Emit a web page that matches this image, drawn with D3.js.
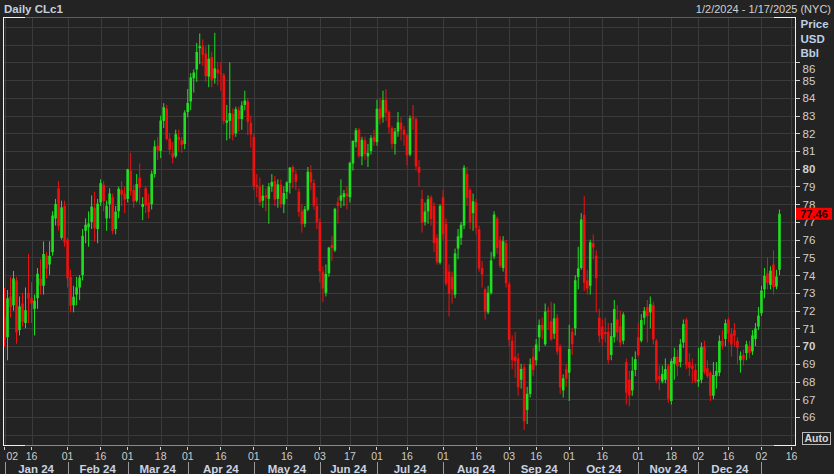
<!DOCTYPE html>
<html><head><meta charset="utf-8">
<script src="https://cdn.jsdelivr.net/npm/d3@7"></script>
<style>
html,body{margin:0;padding:0;background:#232323;overflow:hidden;}
svg{display:block;}
text{font-family:"Liberation Sans",Arial,sans-serif;}
</style></head><body>
<svg id="c" width="834" height="474"></svg>
<script>
// ---- categories: trading days (last five are empty axis space up to 1/17/2025)
const dates = [
"2024-01-02","2024-01-03","2024-01-04","2024-01-05","2024-01-08","2024-01-09","2024-01-10","2024-01-11","2024-01-12","2024-01-16",
"2024-01-17","2024-01-18","2024-01-19","2024-01-22","2024-01-23","2024-01-24","2024-01-25","2024-01-26","2024-01-29","2024-01-30","2024-01-31",
"2024-02-01","2024-02-02","2024-02-05","2024-02-06","2024-02-07","2024-02-08","2024-02-09","2024-02-12","2024-02-13","2024-02-14",
"2024-02-15","2024-02-16","2024-02-20","2024-02-21","2024-02-22","2024-02-23","2024-02-26","2024-02-27","2024-02-28","2024-02-29",
"2024-03-01","2024-03-04","2024-03-05","2024-03-06","2024-03-07","2024-03-08","2024-03-11","2024-03-12","2024-03-13","2024-03-14",
"2024-03-15","2024-03-18","2024-03-19","2024-03-20","2024-03-21","2024-03-22","2024-03-25","2024-03-26","2024-03-27","2024-03-28",
"2024-04-01","2024-04-02","2024-04-03","2024-04-04","2024-04-05","2024-04-08","2024-04-09","2024-04-10","2024-04-11","2024-04-12",
"2024-04-15","2024-04-16","2024-04-17","2024-04-18","2024-04-19","2024-04-22","2024-04-23","2024-04-24","2024-04-25","2024-04-26","2024-04-29","2024-04-30",
"2024-05-01","2024-05-02","2024-05-03","2024-05-06","2024-05-07","2024-05-08","2024-05-09","2024-05-10","2024-05-13","2024-05-14",
"2024-05-15","2024-05-16","2024-05-17","2024-05-20","2024-05-21","2024-05-22","2024-05-23","2024-05-24","2024-05-28","2024-05-29","2024-05-30","2024-05-31",
"2024-06-03","2024-06-04","2024-06-05","2024-06-06","2024-06-07","2024-06-10","2024-06-11","2024-06-12","2024-06-13","2024-06-14",
"2024-06-17","2024-06-18","2024-06-20","2024-06-21","2024-06-24","2024-06-25","2024-06-26","2024-06-27","2024-06-28",
"2024-07-01","2024-07-02","2024-07-03","2024-07-05","2024-07-08","2024-07-09","2024-07-10","2024-07-11","2024-07-12","2024-07-15",
"2024-07-16","2024-07-17","2024-07-18","2024-07-19","2024-07-22","2024-07-23","2024-07-24","2024-07-25","2024-07-26","2024-07-29","2024-07-30","2024-07-31",
"2024-08-01","2024-08-02","2024-08-05","2024-08-06","2024-08-07","2024-08-08","2024-08-09","2024-08-12","2024-08-13","2024-08-14",
"2024-08-15","2024-08-16","2024-08-19","2024-08-20","2024-08-21","2024-08-22","2024-08-23","2024-08-26","2024-08-27","2024-08-28","2024-08-29","2024-08-30",
"2024-09-03","2024-09-04","2024-09-05","2024-09-06","2024-09-09","2024-09-10","2024-09-11","2024-09-12","2024-09-13","2024-09-16",
"2024-09-17","2024-09-18","2024-09-19","2024-09-20","2024-09-23","2024-09-24","2024-09-25","2024-09-26","2024-09-27","2024-09-30",
"2024-10-01","2024-10-02","2024-10-03","2024-10-04","2024-10-07","2024-10-08","2024-10-09","2024-10-10","2024-10-11","2024-10-14",
"2024-10-15","2024-10-16","2024-10-17","2024-10-18","2024-10-21","2024-10-22","2024-10-23","2024-10-24","2024-10-25","2024-10-28","2024-10-29","2024-10-30","2024-10-31",
"2024-11-01","2024-11-04","2024-11-05","2024-11-06","2024-11-07","2024-11-08","2024-11-11","2024-11-12","2024-11-13","2024-11-14",
"2024-11-15","2024-11-18","2024-11-19","2024-11-20","2024-11-21","2024-11-22","2024-11-25","2024-11-26","2024-11-27","2024-11-29",
"2024-12-02","2024-12-03","2024-12-04","2024-12-05","2024-12-06","2024-12-09","2024-12-10","2024-12-11","2024-12-12","2024-12-13",
"2024-12-16","2024-12-17","2024-12-18","2024-12-19","2024-12-20","2024-12-23","2024-12-24","2024-12-26","2024-12-27","2024-12-30","2024-12-31",
"2025-01-02","2025-01-03","2025-01-06","2025-01-07","2025-01-08","2025-01-09","2025-01-10",
"2025-01-13","2025-01-14","2025-01-15","2025-01-16","2025-01-17"
];

// ---- series values (USD/Bbl)
const open = [
71.65,70.50,72.80,72.30,73.70,70.90,72.40,71.30,73.00,72.70,72.10,72.70,73.80,73.40,75.10,74.60,75.30,77.20,78.90,76.10,77.90,
76.00,73.90,72.30,72.90,73.30,74.00,76.50,76.70,77.00,77.80,76.60,78.10,79.10,77.20,78.00,78.40,76.60,77.60,78.80,78.60,
78.30,79.90,78.80,78.20,79.50,77.85,78.90,78.10,78.00,79.70,81.30,81.00,82.70,83.40,81.70,80.90,80.70,81.80,81.60,81.40,
83.20,83.80,85.10,85.60,86.80,86.90,86.50,85.20,86.30,85.10,85.60,85.40,85.30,82.60,82.70,83.10,82.00,83.30,82.80,83.60,83.80,82.60,
81.80,79.10,79.00,78.20,78.50,78.30,79.00,79.30,78.30,79.10,78.00,78.70,79.20,80.10,79.70,78.70,77.60,76.90,77.70,79.80,79.20,77.90,
77.00,74.20,73.00,74.10,75.70,75.40,78.10,78.20,78.40,78.60,78.40,80.30,81.50,82.20,80.70,81.60,80.70,81.00,81.80,
81.50,83.40,82.90,83.90,83.20,82.30,81.40,82.10,82.60,82.20,81.90,80.80,82.90,82.80,80.10,78.30,77.00,77.60,78.40,77.90,76.10,74.70,
78.40,76.90,74.20,73.90,72.90,75.50,76.10,76.80,79.70,78.80,77.50,78.10,76.60,74.40,73.20,71.90,73.00,75.05,77.20,76.00,74.40,75.80,
73.50,70.30,69.40,69.30,68.10,68.80,66.40,67.30,69.40,69.20,70.50,71.20,70.10,72.00,71.40,70.70,71.60,69.97,67.50,68.70,
68.50,70.80,71.00,73.90,74.40,77.40,73.70,73.40,75.80,75.10,71.60,71.10,70.80,70.80,69.50,70.50,71.50,71.10,70.30,69.10,68.10,67.50,68.65,
70.50,70.30,71.60,72.20,71.90,72.30,70.30,68.30,68.00,68.10,68.90,66.90,69.00,69.40,69.10,70.20,71.50,69.10,68.90,68.65,
68.00,68.10,70.00,68.75,68.50,67.20,68.30,68.50,70.30,70.40,71.50,70.70,70.90,70.30,69.20,69.50,69.60,70.00,69.70,70.40,71.10,
71.85,73.20,74.10,73.45,74.60,73.35,74.30
];
const high = [
73.28,73.16,73.90,74.24,73.90,72.80,73.00,73.30,75.20,73.60,72.90,74.40,74.90,75.90,75.30,75.90,77.60,78.30,79.30,78.20,78.20,
76.10,74.30,73.40,73.90,74.00,76.60,77.20,77.60,78.50,78.70,78.30,79.40,79.30,78.20,78.90,78.60,77.90,79.00,79.30,79.00,
80.00,80.90,79.10,79.70,80.30,78.40,79.00,78.60,79.90,81.60,81.80,83.00,83.70,83.60,82.00,81.50,82.20,82.20,81.80,83.30,
84.50,85.40,85.60,87.10,87.63,87.30,86.90,87.00,86.60,87.67,86.00,86.00,85.40,83.60,86.00,83.40,83.50,83.50,83.80,84.40,84.00,83.00,
82.00,79.70,79.50,79.10,78.90,79.20,79.70,79.60,79.40,79.40,79.00,79.30,80.10,80.20,79.90,78.90,78.00,77.90,80.10,80.20,79.40,78.40,
77.20,74.50,74.60,75.60,76.20,77.80,78.40,79.40,78.80,79.00,80.40,81.60,82.30,82.30,81.80,81.80,81.40,81.90,82.20,
83.90,84.00,84.40,84.50,83.30,82.40,82.30,83.20,82.90,82.40,82.00,83.00,83.60,82.90,80.50,78.80,78.10,78.50,78.50,78.10,76.30,78.00,
78.80,77.20,74.60,74.20,75.50,76.60,77.00,80.20,80.10,78.90,78.60,78.30,76.80,74.80,73.30,73.40,75.30,77.60,77.30,76.20,76.20,76.00,
73.60,70.60,70.80,69.60,69.00,69.00,67.70,69.30,69.90,70.40,71.50,71.60,72.40,72.20,72.50,72.40,71.80,70.10,68.40,69.00,
71.20,71.00,74.00,75.60,77.50,78.46,74.30,76.00,76.30,75.40,72.10,71.50,71.60,71.30,71.30,72.60,72.30,72.00,71.90,69.30,68.60,69.40,69.70,
71.30,71.80,72.20,72.60,72.80,72.50,70.40,68.90,68.90,69.30,69.00,69.30,69.90,69.80,70.40,71.50,71.60,69.60,69.30,69.00,
69.90,70.20,70.30,69.20,68.60,69.10,69.10,70.60,70.90,71.50,71.60,71.00,71.30,70.50,69.70,69.80,70.30,70.30,70.90,71.30,72.20,
73.40,74.40,75.00,74.50,75.40,74.30,77.70
];
const low = [
69.95,69.20,71.60,72.00,70.13,70.60,71.10,71.00,71.30,71.30,70.60,72.10,72.90,72.90,73.80,74.00,75.10,76.80,76.50,76.00,75.60,
73.30,71.90,71.90,72.30,72.60,73.70,75.80,75.60,76.60,75.90,75.80,77.90,77.60,76.50,77.20,76.30,76.30,77.20,77.90,77.50,
78.10,78.50,77.80,78.10,78.00,77.10,77.50,77.20,77.70,79.50,80.50,80.60,82.30,81.60,80.80,80.30,80.60,81.00,80.90,81.10,
82.90,83.30,84.30,84.90,85.90,85.80,84.90,84.60,84.60,84.80,84.70,84.40,82.50,81.60,81.70,81.60,81.80,82.10,82.20,83.30,81.90,81.20,
78.80,78.40,77.90,77.80,77.60,76.90,78.70,77.90,77.80,77.80,77.50,78.30,78.60,78.90,78.80,77.30,76.40,76.70,77.60,78.80,77.70,76.60,
73.60,72.48,72.80,73.90,74.80,75.30,76.90,77.80,77.90,77.70,78.10,79.90,81.20,80.60,80.20,80.50,80.10,80.80,81.30,
81.30,82.50,82.60,82.70,82.00,81.10,80.80,81.80,81.60,81.30,80.20,80.70,82.20,79.90,79.00,76.40,76.80,76.90,76.80,75.30,74.60,74.60,
76.00,73.40,71.67,72.40,72.70,74.90,75.70,76.60,77.90,76.60,76.50,76.30,74.20,73.30,71.50,71.80,72.90,74.90,75.20,74.40,74.20,73.30,
70.00,68.70,68.20,67.20,67.60,65.27,65.60,67.10,68.30,68.90,69.70,70.40,70.00,70.90,70.30,70.40,69.50,67.30,67.10,67.70,
66.90,69.50,70.60,73.20,74.30,73.10,72.90,72.90,74.90,71.90,70.20,70.00,70.20,69.00,69.20,70.20,70.30,70.00,70.10,66.70,66.60,67.20,68.30,
69.40,70.20,71.20,70.20,71.00,70.10,67.90,67.50,67.90,67.90,66.80,66.70,68.10,68.30,68.80,69.90,68.70,68.30,67.90,67.90,
67.70,67.90,68.40,68.20,66.90,67.00,67.60,68.30,69.80,70.00,70.20,69.40,70.00,69.00,68.50,68.90,69.20,69.30,69.50,70.00,70.90,
71.70,72.70,73.20,73.20,72.90,73.20,74.00
];
const close = [
70.38,72.70,72.19,73.81,70.77,72.24,71.37,72.02,72.68,72.40,72.56,74.08,73.41,75.19,74.37,75.09,77.36,78.01,76.78,77.82,75.85,
73.82,72.28,72.78,73.31,73.86,76.22,76.84,76.92,77.87,76.64,78.03,79.19,78.18,77.91,78.61,76.49,77.58,78.87,78.54,78.26,
79.97,78.74,78.15,79.13,78.93,78.01,77.93,77.56,79.72,81.26,81.04,82.72,83.47,81.68,81.07,80.63,81.95,81.62,81.35,83.17,
83.71,85.15,85.43,86.59,86.91,86.43,85.23,86.21,85.02,85.66,85.41,85.36,82.69,82.73,83.14,81.90,83.36,82.81,83.57,83.85,82.63,81.93,
79.00,78.95,78.11,78.48,78.38,78.99,79.26,78.26,79.12,78.02,78.63,79.23,80.06,79.80,79.26,77.57,76.87,77.72,79.83,79.23,77.91,76.99,
74.22,73.25,74.07,75.55,75.53,77.74,77.90,78.50,78.62,78.45,80.33,81.57,82.17,80.73,81.63,80.83,80.90,81.74,81.54,
83.38,82.81,83.88,83.16,82.33,81.41,82.10,82.62,82.21,81.91,80.76,82.85,82.82,80.13,79.78,76.96,77.59,78.28,77.16,75.81,74.73,77.91,
76.31,73.52,72.94,73.20,75.23,76.19,76.84,80.06,78.35,76.98,78.16,76.65,74.37,74.04,71.93,73.01,74.83,77.42,75.53,74.52,75.91,73.55,
70.34,69.20,69.15,67.67,68.71,65.75,67.31,68.97,68.65,70.09,71.19,70.91,71.95,71.92,70.37,71.56,69.69,67.67,68.18,68.17,
69.83,70.10,73.71,74.38,77.14,73.57,73.24,75.85,75.56,73.83,70.58,70.39,70.67,69.22,70.56,72.09,70.77,70.19,71.78,67.38,67.21,68.61,69.26,
69.49,71.47,71.99,71.69,72.36,70.38,68.04,68.12,68.43,68.70,67.02,69.16,69.39,68.87,70.10,71.24,68.94,68.77,68.72,68.00,
68.10,69.94,68.54,68.30,67.20,68.37,68.59,70.29,70.02,71.29,70.71,70.08,70.58,69.91,69.46,69.24,70.10,69.62,70.60,70.99,71.72,
73.13,73.96,73.56,74.25,73.32,73.92,77.46
];

// ---- axis ticks
const yTickValues = [66,67,68,69,70,71,72,73,74,75,76,77,78,79,80,81,82,83,84,85,86];
const yGridValues = [65,66,67,68,69,70,71,72,73,74,75,76,77,78,79,80,81,82,83,84,85,86,87,88];
const yBoldValues = [70,80];
const xTickDates = ["2024-01-02","2024-01-16","2024-02-01","2024-02-16","2024-03-01","2024-03-18","2024-04-01","2024-04-16",
  "2024-05-01","2024-05-16","2024-06-03","2024-06-17","2024-07-01","2024-07-16","2024-08-01","2024-08-16","2024-09-03","2024-09-16",
  "2024-10-01","2024-10-16","2024-11-01","2024-11-18","2024-12-02","2024-12-16","2025-01-02","2025-01-16"];
const monthStarts = ["2024-01-02","2024-02-01","2024-03-01","2024-04-01","2024-05-01","2024-06-03","2024-07-01","2024-08-01",
  "2024-09-03","2024-10-01","2024-11-01","2024-12-02","2025-01-02"];
const monthLabels = ["Jan 24","Feb 24","Mar 24","Apr 24","May 24","Jun 24","Jul 24","Aug 24","Sep 24","Oct 24","Nov 24","Dec 24"];
const lastPrice = 77.46;

// ---- layout
const L = 3, R = 795, T = 17, B = 445;
const GREEN = "#1fe01f", RED = "#f01010";

const svg = d3.select("#c");
svg.append("rect").attr("width", 834).attr("height", 474).attr("fill", "#232323");

const x = d3.scaleBand().domain(dates).range([L, R + 1]).paddingInner(0).paddingOuter(0);
const cx = d => x(d) + x.bandwidth() / 2;
const y = d3.scaleLinear().domain([64.42, 88.56]).range([B, T]);

svg.append("clipPath").attr("id", "plot").append("rect")
  .attr("x", L).attr("y", T).attr("width", R - L).attr("height", B - T);

// grid
const grid = svg.append("g").attr("clip-path", "url(#plot)").attr("shape-rendering", "crispEdges");
grid.selectAll("line.h").data(yGridValues).join("line").attr("class", "h")
  .attr("x1", L).attr("x2", R).attr("y1", d => Math.round(y(d)) + 0.5).attr("y2", d => Math.round(y(d)) + 0.5)
  .attr("stroke", "#3b3b3b");
grid.selectAll("line.v").data(xTickDates).join("line").attr("class", "v")
  .attr("x1", d => Math.round(cx(d)) + 0.5).attr("x2", d => Math.round(cx(d)) + 0.5).attr("y1", T).attr("y2", B)
  .attr("stroke", "#3b3b3b");

// candles
const candles = close.map((c, i) => ({ d: dates[i], o: open[i], h: high[i], l: low[i], c }));
const cg = svg.append("g").attr("clip-path", "url(#plot)");
cg.selectAll("line.w").data(candles).join("line").attr("class", "w")
  .attr("x1", d => cx(d.d)).attr("x2", d => cx(d.d))
  .attr("y1", d => y(d.h)).attr("y2", d => y(d.l))
  .attr("stroke", d => d.c >= d.o ? GREEN : RED).attr("stroke-width", 1);
cg.selectAll("rect.b").data(candles).join("rect").attr("class", "b")
  .attr("x", d => cx(d.d) - 1.3).attr("width", 2.6)
  .attr("y", d => y(Math.max(d.o, d.c)))
  .attr("height", d => Math.max(1, Math.abs(y(d.o) - y(d.c))))
  .attr("fill", d => d.c >= d.o ? GREEN : RED);

// frame
const fr = svg.append("g").attr("shape-rendering", "crispEdges");
fr.append("line").attr("x1", L).attr("x2", R).attr("y1", T + 0.5).attr("y2", T + 0.5).attr("stroke", "#5e5e5e");
fr.append("line").attr("x1", L).attr("x2", R).attr("y1", B + 0.5).attr("y2", B + 0.5).attr("stroke", "#8a8a8a");
fr.append("line").attr("x1", L + 0.5).attr("x2", L + 0.5).attr("y1", T).attr("y2", B + 1).attr("stroke", "#f0f0f0");
fr.append("line").attr("x1", R + 0.5).attr("x2", R + 0.5).attr("y1", T).attr("y2", B + 1).attr("stroke", "#f0f0f0");
[[L, L + 21, T], [L, L + 21, B], [R - 21, R, T], [R - 21, R, B]].forEach(s =>
  fr.append("line").attr("x1", s[0]).attr("x2", s[1] + 1).attr("y1", s[2] + 0.5).attr("y2", s[2] + 0.5).attr("stroke", "#f0f0f0"));

// right axis
const ya = svg.append("g").attr("transform", `translate(${R + 0.5},0)`)
  .call(d3.axisRight(y).tickValues(yTickValues).tickSize(4).tickPadding(3).tickFormat(d3.format("d")));
ya.select(".domain").remove();
ya.selectAll(".tick line").attr("stroke", "#d0d0d0").attr("shape-rendering", "crispEdges");
ya.selectAll(".tick text").attr("fill", "#cfcfcf").attr("font-size", 11.5)
  .attr("font-family", "Liberation Sans, Arial, sans-serif")
  .attr("font-weight", d => yBoldValues.includes(d) ? "bold" : "normal")
  .attr("dy", d => d === 86 ? "0.9em" : "0.34em");

// units
[["Price", 28], ["USD", 42.5], ["Bbl", 57]].forEach(t =>
  svg.append("text").attr("x", 800.5).attr("y", t[1]).text(t[0])
    .attr("fill", "#bcd0ea").attr("font-size", 11.5).attr("font-weight", "bold"));

// last price box
svg.append("rect").attr("x", 796).attr("y", y(lastPrice) - 6).attr("width", 36).attr("height", 12).attr("fill", "#ff0000");
svg.append("text").attr("x", 814).attr("y", y(lastPrice)).attr("dy", "0.36em").attr("text-anchor", "middle")
  .attr("font-size", 11).attr("font-weight", "bold").attr("fill", "#1a0000").text(d3.format(".2f")(lastPrice));

// Auto box
svg.append("rect").attr("x", 802.5).attr("y", 432.5).attr("width", 28).attr("height", 11.5)
  .attr("fill", "none").attr("stroke", "#b8b8b8").attr("shape-rendering", "crispEdges");
svg.append("text").attr("x", 816.5).attr("y", 442.3).attr("text-anchor", "middle")
  .attr("font-size", 10.5).attr("font-weight", "bold").attr("fill", "#d8d8d8").text("Auto");

// bottom axis (days)
const xa = svg.append("g").attr("transform", `translate(0,${B + 0.5})`)
  .call(d3.axisBottom(x).tickValues(xTickDates).tickSize(4).tickPadding(3).tickFormat(d => d.slice(8)));
xa.select(".domain").remove();
xa.selectAll(".tick line").attr("stroke", "#cfcfcf").attr("shape-rendering", "crispEdges").attr("y1", 1);
xa.selectAll(".tick text").attr("fill", "#cdcdcd").attr("font-size", 10.5)
  .attr("font-family", "Liberation Sans, Arial, sans-serif")
  .attr("text-anchor", (d, i) => i === 0 ? "start" : "middle")
  .attr("x", (d, i) => i === 0 ? 2 : 0);

// month separators + labels
svg.append("g").selectAll("line").data(monthStarts).join("line")
  .attr("x1", d => Math.round(cx(d)) + 0.5).attr("x2", d => Math.round(cx(d)) + 0.5)
  .attr("y1", 462).attr("y2", 474).attr("stroke", "#9a9a9a").attr("shape-rendering", "crispEdges");
svg.append("g").selectAll("text").data(monthLabels).join("text")
  .attr("x", (d, i) => (cx(monthStarts[i]) + cx(monthStarts[i + 1])) / 2)
  .attr("y", 473).attr("text-anchor", "middle")
  .attr("font-size", 11.5).attr("font-weight", "bold").attr("fill", "#c9d4e4").text(d => d);

// header
svg.append("text").attr("x", 4).attr("y", 12.5).text("Daily CLc1")
  .attr("font-size", 11.5).attr("font-weight", "bold").attr("fill", "#c3cfdf");
svg.append("text").attr("x", 831).attr("y", 12.5).attr("text-anchor", "end").text("1/2/2024 - 1/17/2025 (NYC)")
  .attr("font-size", 11).attr("fill", "#d0d0d0");
</script>
</body></html>
